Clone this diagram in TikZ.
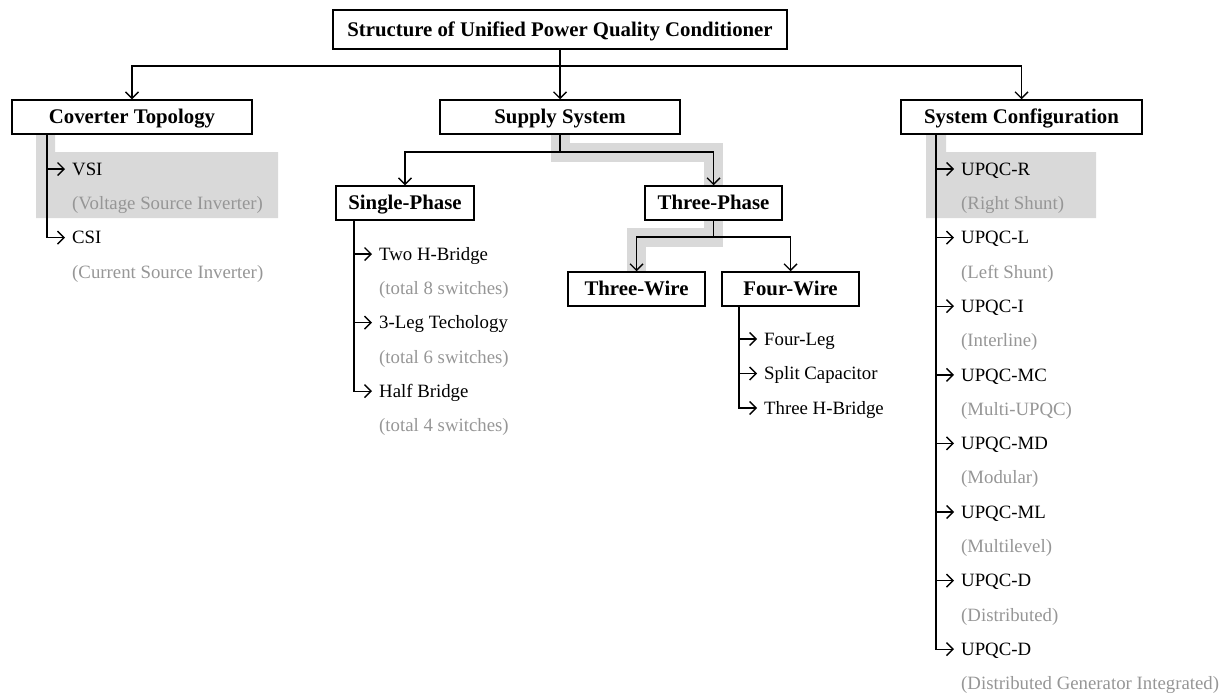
\documentclass[tikz,border=0pt]{standalone}
\usepackage{fontspec}
\setmainfont{Liberation Serif}
\usetikzlibrary{arrows.meta,backgrounds}
\definecolor{subgray}{RGB}{150,150,150}
\definecolor{hlgray}{RGB}{217,217,217}
\begin{document}
\begin{tikzpicture}[x=1pt,y=-1pt,
 box/.style={draw,line width=1.5pt,inner sep=0pt,text height=13.7pt,text depth=0pt,font=\fontsize{20.8}{24}\selectfont\bfseries,minimum height=34pt},
 item/.style={anchor=west,inner xsep=7pt,inner ysep=0pt,text height=12.4pt,text depth=0pt,font=\fontsize{18.8}{22}\selectfont},
 sub/.style={anchor=west,inner sep=0pt,text height=12.4pt,text depth=0pt,font=\fontsize{18.8}{22}\selectfont,text=subgray},
 conn/.style={line width=1.4pt},
 arr/.style={conn,-{Straight Barb[length=6.5pt,width=13pt]}},
 hl/.style={draw=hlgray,line width=19pt,line join=miter}
]
\useasboundingbox (0,0) rectangle (1227,694);

% boxes
\node[box,minimum width=454pt,minimum height=39pt] (top) at (560,29.5) {Structure of Unified Power Quality Conditioner};
\node[box,minimum width=240pt] (ct) at (132,117) {Coverter Topology};
\node[box,minimum width=240pt] (ss) at (560,117) {Supply System};
\node[box,minimum width=241pt] (sc) at (1021.5,117) {System Configuration};
\node[box,minimum width=138pt] (sp) at (405,203) {Single-Phase};
\node[box,minimum width=137pt] (tp) at (713.5,203) {Three-Phase};
\node[box,minimum width=137pt] (tw) at (636.5,289) {Three-Wire};
\node[box,minimum width=137pt] (fw) at (790.5,289) {Four-Wire};

% junctions and trunks
\coordinate (j1) at (560,66);
\coordinate (j2) at (560,152);
\coordinate (j3) at (713.5,237);
\coordinate (ctT) at (47,134);
\coordinate (spT) at (354,220);
\coordinate (fwT) at (739,306);
\coordinate (scT) at (936,134);

% highlights
\begin{scope}[on background layer]
\fill[hlgray] (36,134) -- (55,134) -- (55,152) -- (278,152) -- (278,218) -- (36,218) -- cycle;
\fill[hlgray] (926,134) -- (946,134) -- (946,152) -- (1096,152) -- (1096,218) -- (926,218) -- cycle;
\draw[hl] (ss.south) -- (j2) -| (tp.north);
\draw[hl] (tp.south) -- (j3) -| (tw.north);
\end{scope}

% top level connectors
\draw[conn] (top.south) -- (j1);
\draw[arr] (j1) -| (ct.north);
\draw[arr] (j1) -- (ss.north);
\draw[arr] (j1) -| (sc.north);
\draw[conn] (ss.south) -- (j2);
\draw[arr] (j2) -| (sp.north);
\draw[arr] (j2) -| (tp.north);
\draw[conn] (tp.south) -- (j3);
\draw[arr] (j3) -| (tw.north);
\draw[arr] (j3) -| (fw.north);

% converter topology
\node[item] (vsi) at (65,169) {VSI};
\node[sub] (vsis) at (72,203.3) {(Voltage Source Inverter)};
\node[item] (csi) at (65,237.6) {CSI};
\node[sub] (csis) at (72,272) {(Current Source Inverter)};
\draw[arr] (ctT) |- (vsi.west);
\draw[arr] (ctT) |- (csi.west);

% single phase
\node[item] (s1) at (372,254) {Two H-Bridge};
\node[sub] (s1s) at (379,288.3) {(total 8 switches)};
\node[item] (s2) at (372,322.6) {3-Leg Techology};
\node[sub] (s2s) at (379,356.9) {(total 6 switches)};
\node[item] (s3) at (372,391.2) {Half Bridge};
\node[sub] (s3s) at (379,425.5) {(total 4 switches)};
\draw[arr] (spT) |- (s1.west);
\draw[arr] (spT) |- (s2.west);
\draw[arr] (spT) |- (s3.west);

% four wire
\node[item] (f1) at (757,339) {Four-Leg};
\node[item] (f2) at (757,373.5) {Split Capacitor};
\node[item] (f3) at (757,408) {Three H-Bridge};
\draw[arr] (fwT) |- (f1.west);
\draw[arr] (fwT) |- (f2.west);
\draw[arr] (fwT) |- (f3.west);

% system configuration
\node[item] (r1) at (954,169) {UPQC-R};
\node[sub] (r1s) at (961,203.3) {(Right Shunt)};
\node[item] (r2) at (954,237.6) {UPQC-L};
\node[sub] (r2s) at (961,271.9) {(Left Shunt)};
\node[item] (r3) at (954,306.2) {UPQC-I};
\node[sub] (r3s) at (961,340.5) {(Interline)};
\node[item] (r4) at (954,374.8) {UPQC-MC};
\node[sub] (r4s) at (961,409.1) {(Multi-UPQC)};
\node[item] (r5) at (954,443.4) {UPQC-MD};
\node[sub] (r5s) at (961,477.7) {(Modular)};
\node[item] (r6) at (954,512) {UPQC-ML};
\node[sub] (r6s) at (961,546.3) {(Multilevel)};
\node[item] (r7) at (954,580.6) {UPQC-D};
\node[sub] (r7s) at (961,614.9) {(Distributed)};
\node[item] (r8) at (954,649.2) {UPQC-D};
\node[sub] (r8s) at (961,683.5) {(Distributed Generator Integrated)};
\foreach \n in {r1,r2,r3,r4,r5,r6,r7,r8}
  \draw[arr] (scT) |- (\n.west);
\end{tikzpicture}
\end{document}
